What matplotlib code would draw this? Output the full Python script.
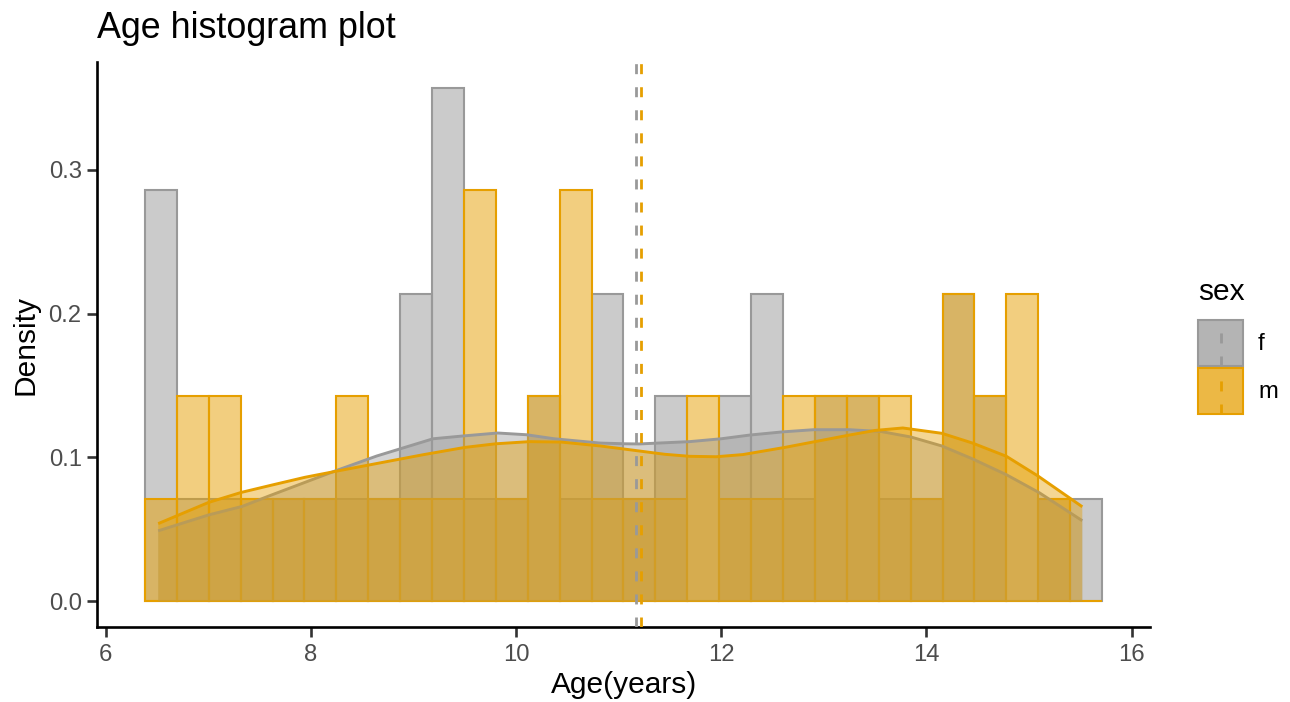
import numpy as np
import matplotlib
matplotlib.use("Agg")
import matplotlib.pyplot as plt
from matplotlib.patches import Rectangle
from matplotlib.lines import Line2D
from matplotlib.colors import to_rgba

plt.rcParams['font.family'] = ['Liberation Sans', 'DejaVu Sans']

# ---------------- data ----------------
title = "Age histogram plot"
x_label = "Age(years)"
y_label = "Density"
legend_title = "sex"
groups = ["f", "m"]

bin_start = 6.38
bin_width = 0.3111

f_heights = [0.286, 0.071, 0.071, 0.071, 0.071, 0.071, 0.071, 0.071, 0.214, 0.357,
             0.071, 0.071, 0.143, 0.071, 0.214, 0.071, 0.143, 0.0, 0.143, 0.214,
             0.071, 0.143, 0.143, 0.071, 0.071, 0.214, 0.143, 0.0, 0.071, 0.071]
m_heights = [0.071, 0.143, 0.143, 0.071, 0.071, 0.071, 0.143, 0.071, 0.071, 0.071,
             0.286, 0.071, 0.143, 0.286, 0.071, 0.071, 0.071, 0.143, 0.071, 0.071,
             0.143, 0.143, 0.143, 0.143, 0.071, 0.214, 0.143, 0.214, 0.071, 0.0]

f_dens_x = [6.51, 7.0, 7.33, 7.6, 8.25, 8.64, 9.19, 9.49, 9.82, 10.1, 10.37, 10.82, 11.07, 11.2,
            11.69, 12.0, 12.28, 12.6, 12.90, 13.25, 13.56, 13.85, 14.15, 14.45, 14.78, 15.1, 15.52]
f_dens_y = [0.049, 0.060, 0.066, 0.0735, 0.091, 0.101, 0.113, 0.115, 0.117, 0.1158, 0.113, 0.110,
            0.1095, 0.1094, 0.111, 0.113, 0.1156, 0.1178, 0.1193, 0.1193, 0.118, 0.1142, 0.108,
            0.099, 0.088, 0.0755, 0.056]

m_dens_x = [6.51, 7.0, 7.32, 7.63, 7.94, 8.25, 8.73, 9.1, 9.5, 9.8, 10.13, 10.44, 10.82, 11.2,
            11.45, 11.69, 11.95, 12.21, 12.62, 12.95, 13.25, 13.5, 13.77, 14.15, 14.45, 14.78,
            15.09, 15.52]
m_dens_y = [0.054, 0.0687, 0.0757, 0.081, 0.0862, 0.0905, 0.097, 0.102, 0.107, 0.1095, 0.111,
            0.1107, 0.108, 0.1045, 0.1022, 0.1008, 0.1005, 0.102, 0.107, 0.1115, 0.1156, 0.1188,
            0.1205, 0.1168, 0.110, 0.1008, 0.087, 0.0657]

f_mean = 11.165
m_mean = 11.216

x_ticks = [6, 8, 10, 12, 14, 16]
y_ticks = [0.0, 0.1, 0.2, 0.3]
y_tick_labels = ["0.0", "0.1", "0.2", "0.3"]

# ---------------- styling ----------------
colors = {"f": "#999999", "m": "#E69F00"}
bar_alpha = 0.5
dens_alpha = 0.42
W, H = 1290, 702
def fx(x):
    return x / W
def fy(y):
    return 1 - y / H

fig = plt.figure(figsize=(W / 100, H / 100), dpi=100)
ax = fig.add_axes([fx(97), fy(627), (1150 - 97) / W, (627 - 62) / H])

heights = {"f": f_heights, "m": m_heights}
dens = {"f": (f_dens_x, f_dens_y), "m": (m_dens_x, m_dens_y)}
means = {"f": f_mean, "m": m_mean}

edges = bin_start + bin_width * np.arange(len(f_heights))
for g in groups:
    c = colors[g]
    ax.bar(edges, heights[g], width=bin_width, align='edge',
           facecolor=to_rgba(c, bar_alpha), edgecolor=c, linewidth=1.5, zorder=2)

for g in groups:
    c = colors[g]
    dx, dy = dens[g]
    ax.fill_between(dx, 0, dy, facecolor=to_rgba(c, dens_alpha), edgecolor='none', zorder=3)
    ax.plot(dx, dy, color=c, lw=2.1, zorder=3, solid_capstyle='butt', solid_joinstyle='round')

for g in groups:
    ax.axvline(means[g], color=colors[g], lw=2.0, dashes=(3.6, 4.7), zorder=5)

ax.set_xlim(5.913, 16.18)
ax.set_ylim(-0.0179, 0.375)
ax.set_xticks(x_ticks)
ax.set_xticklabels([str(t) for t in x_ticks])
ax.set_yticks(y_ticks)
ax.set_yticklabels(y_tick_labels)

for s in ["top", "right"]:
    ax.spines[s].set_visible(False)
for s in ["left", "bottom"]:
    ax.spines[s].set_linewidth(1.9)
    ax.spines[s].set_color("black")
    ax.spines[s].set_capstyle('projecting')
ax.tick_params(axis='both', direction='out', length=7, width=1.9, color='#333333',
               labelsize=17.2, labelcolor='#4D4D4D')
ax.tick_params(axis='x', pad=5)
ax.tick_params(axis='y', pad=4)

fig.text(fx(97), fy(28), title, fontsize=25.8, ha='left', va='center', color='black')
fig.text(fx(624), fy(685), x_label, fontsize=21.5, ha='center', va='center', color='black')
fig.text(fx(25), fy(345), y_label, fontsize=21.5, ha='center', va='center',
         rotation=90, color='black')

# legend
fig.text(fx(1198), fy(292), legend_title, fontsize=21.5, ha='left', va='center')
key_tops = {"f": 320, "m": 368}
for g in groups:
    c = colors[g]
    top = key_tops[g]
    fig.add_artist(Rectangle((fx(1198), fy(top + 46)), 45 / W, 46 / H,
                             transform=fig.transFigure, facecolor=to_rgba(c, bar_alpha),
                             edgecolor=c, linewidth=1.5))
    fig.add_artist(Rectangle((fx(1199), fy(top + 45)), 43 / W, 44 / H,
                             transform=fig.transFigure, facecolor=to_rgba(c, 0.45),
                             edgecolor='none'))
    fig.add_artist(Line2D([fx(1220.5), fx(1220.5)], [fy(top + 46), fy(top)],
                          transform=fig.transFigure, color=c, lw=2.0,
                          dashes=(3.6, 4.7)))
    fig.text(fx(1258), fy(top + 24), g, fontsize=17.2, ha='left', va='center')

fig.savefig("out.png", dpi=100)
